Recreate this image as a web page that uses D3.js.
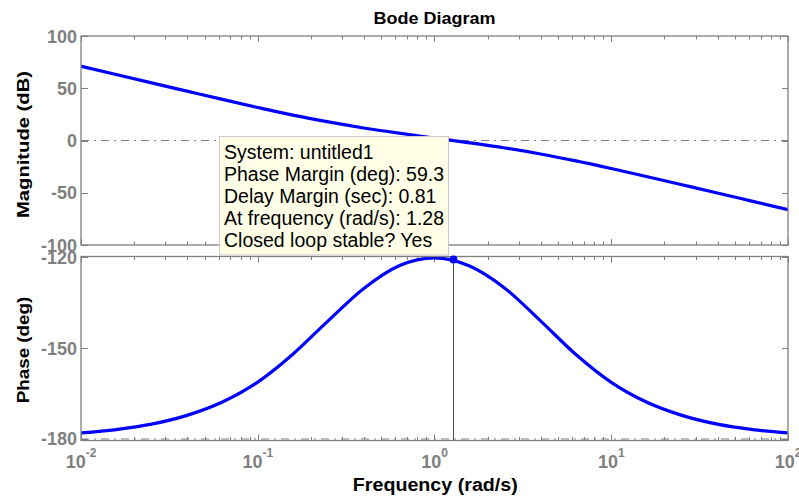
<!DOCTYPE html>
<html>
<head>
<meta charset="utf-8">
<script src="https://cdn.jsdelivr.net/npm/d3@7"></script>
<style>
  html, body { margin: 0; padding: 0; background: #fff; }
  svg { display: block; font-family: "Liberation Sans", Arial, Helvetica, sans-serif; }
</style>
</head>
<body>
<svg id="chart" width="799" height="498"></svg>
<script>
// ---- data ----
const freq = [0.01, 0.0158, 0.0251, 0.0398, 0.0631, 0.1, 0.158, 0.251, 0.398, 0.631, 1, 1.58, 2.51, 3.98, 6.31, 10, 15.8, 25.1, 39.8, 63.1, 100];
const magnitude = [71.1, 63.1, 55.1, 47.2, 39.3, 31.6, 24.3, 17.8, 12.0, 7.0, 2.4, -2.2, -7.2, -12.9, -19.5, -26.8, -34.4, -42.3, -50.2, -58.2, -66.2];
const phase = [-178.0, -176.9, -175.1, -172.2, -167.8, -161.2, -152.0, -140.9, -130.3, -122.8, -120.2, -122.9, -130.3, -141.0, -152.1, -161.3, -167.8, -172.2, -175.1, -176.9, -178.0];
const magTicks = [-100, -50, 0, 50, 100];
const phaseTicks = [-180, -150, -120];
const freqTickExponents = [-2, -1, 0, 1, 2];
const marginFreq = [1.28];
const marginPhase = [-120.7];
const tooltipLines = [
  "System: untitled1",
  "Phase Margin (deg): 59.3",
  "Delay Margin (sec): 0.81",
  "At frequency (rad/s): 1.28",
  "Closed loop stable? Yes"
];
const titleText = "Bode Diagram";
const xLabelText = "Frequency  (rad/s)";
const magLabelText = "Magnitude (dB)";
const phaseLabelText = "Phase (deg)";

// ---- layout ----
const svg = d3.select("#chart");
const left = 81, right = 788;
const axisColor = "#7f7f7f";
const blue = "#0000ff";

const x = d3.scaleLog().domain([0.01, 100]).range([left, right]);
const yMag = d3.scaleLinear().domain([-100, 100]).range([245, 36]);
const yPh = d3.scaleLinear().domain([-180.5, -119.74]).range([440.5, 256.5]);

const defs = svg.append("defs");
defs.append("clipPath").attr("id", "clipMag").append("rect")
  .attr("x", left).attr("y", yMag.range()[1]).attr("width", right - left).attr("height", yMag.range()[0] - yMag.range()[1]);
defs.append("clipPath").attr("id", "clipPh").append("rect")
  .attr("x", left).attr("y", yPh.range()[1]).attr("width", right - left).attr("height", yPh.range()[0] - yPh.range()[1]);

function drawPanel(y, yTicks, refValue, clipId, values, showXLabels) {
  const top = y.range()[1], bottom = y.range()[0];
  const g = svg.append("g");

  // reference dash-dot line
  g.append("line")
    .attr("x1", left).attr("x2", right)
    .attr("y1", y(refValue)).attr("y2", y(refValue))
    .attr("stroke", axisColor).attr("stroke-width", 1)
    .attr("stroke-dasharray", "8,5,2,5");

  // x ticks (major + minor), inward on top and bottom
  const allTicks = [];
  for (let e = -2; e < 2; e++) {
    for (let m = 1; m <= 9; m++) allTicks.push({ v: m * Math.pow(10, e), major: m === 1 });
  }
  allTicks.push({ v: 100, major: true });
  allTicks.forEach(t => {
    const len = t.major ? 6 : 3.5;
    const xx = Math.round(x(t.v)) + 0.5;
    g.append("line").attr("x1", xx).attr("x2", xx).attr("y1", bottom).attr("y2", bottom - len)
      .attr("stroke", axisColor).attr("stroke-width", 1);
    g.append("line").attr("x1", xx).attr("x2", xx).attr("y1", top).attr("y2", top + len)
      .attr("stroke", axisColor).attr("stroke-width", 1);
  });

  // y ticks, inward on left and right, plus labels
  yTicks.forEach(v => {
    const yy = Math.round(y(v)) + 0.5;
    g.append("line").attr("x1", left).attr("x2", left + 7).attr("y1", yy).attr("y2", yy)
      .attr("stroke", axisColor).attr("stroke-width", 1);
    g.append("line").attr("x1", right).attr("x2", right - 6).attr("y1", yy).attr("y2", yy)
      .attr("stroke", axisColor).attr("stroke-width", 1);
    g.append("text")
      .attr("x", left - 4).attr("y", y(v) + 6.5)
      .attr("text-anchor", "end")
      .attr("font-size", 18).attr("font-weight", "bold")
      .attr("fill", axisColor)
      .text(v);
  });

  // data line
  g.append("path")
    .datum(freq.map((f, i) => [f, values[i]]))
    .attr("clip-path", `url(#${clipId})`)
    .attr("fill", "none")
    .attr("stroke", blue)
    .attr("stroke-width", 3.2)
    .attr("stroke-linejoin", "round")
    .attr("d", d3.line().x(d => x(d[0])).y(d => y(d[1])).curve(d3.curveMonotoneX));

  // box
  g.append("rect")
    .attr("x", left).attr("y", top).attr("width", right - left).attr("height", bottom - top)
    .attr("fill", "none").attr("stroke", axisColor).attr("stroke-width", 1.3);

  if (showXLabels) {
    freqTickExponents.forEach(e => {
      const t = g.append("text")
        .attr("x", x(Math.pow(10, e)))
        .attr("y", 468)
        .attr("text-anchor", "middle")
        .attr("font-weight", "bold")
        .attr("fill", axisColor);
      t.append("tspan").attr("font-size", 18).text("10");
      t.append("tspan").attr("font-size", 12).attr("dy", -11).text(String(e));
    });
  }
  return g;
}

drawPanel(yMag, magTicks, 0, "clipMag", magnitude, false);
const gPh = drawPanel(yPh, phaseTicks, -180, "clipPh", phase, true);

// phase margin marker
gPh.append("line")
  .attr("x1", Math.round(x(marginFreq[0])) + 0.5).attr("x2", Math.round(x(marginFreq[0])) + 0.5)
  .attr("y1", yPh.range()[1]).attr("y2", yPh.range()[0])
  .attr("stroke", "#505050").attr("stroke-width", 1);
gPh.append("circle")
  .attr("cx", x(marginFreq[0])).attr("cy", yPh(marginPhase[0]))
  .attr("r", 4).attr("fill", blue);

// titles and labels
svg.append("text")
  .attr("x", 434.5).attr("y", 24)
  .attr("text-anchor", "middle")
  .attr("font-size", 17).attr("font-weight", "bold")
  .attr("textLength", 122).attr("lengthAdjust", "spacingAndGlyphs")
  .text(titleText);

svg.append("text")
  .attr("x", 435.3).attr("y", 491)
  .attr("text-anchor", "middle")
  .attr("font-size", 17.5).attr("font-weight", "bold")
  .attr("textLength", 165).attr("lengthAdjust", "spacingAndGlyphs")
  .text(xLabelText);

svg.append("text")
  .attr("transform", "translate(28.5,144.5) rotate(-90)")
  .attr("text-anchor", "middle")
  .attr("font-size", 17).attr("font-weight", "bold")
  .attr("textLength", 147).attr("lengthAdjust", "spacingAndGlyphs")
  .text(magLabelText);

svg.append("text")
  .attr("transform", "translate(28.5,350) rotate(-90)")
  .attr("text-anchor", "middle")
  .attr("font-size", 17).attr("font-weight", "bold")
  .attr("textLength", 106.7).attr("lengthAdjust", "spacingAndGlyphs")
  .text(phaseLabelText);

// data tip box
const tip = svg.append("g");
tip.append("rect")
  .attr("x", 219.5).attr("y", 136.5).attr("width", 229).attr("height", 118.5)
  .attr("fill", "#ffffe8").attr("stroke", "#c8c8c8").attr("stroke-width", 1);
tooltipLines.forEach((s, i) => {
  tip.append("text")
    .attr("x", 224).attr("y", 159.3 + i * 22)
    .attr("font-size", 19.5)
    .attr("fill", "#000")
    .text(s);
});
</script>
</body>
</html>
